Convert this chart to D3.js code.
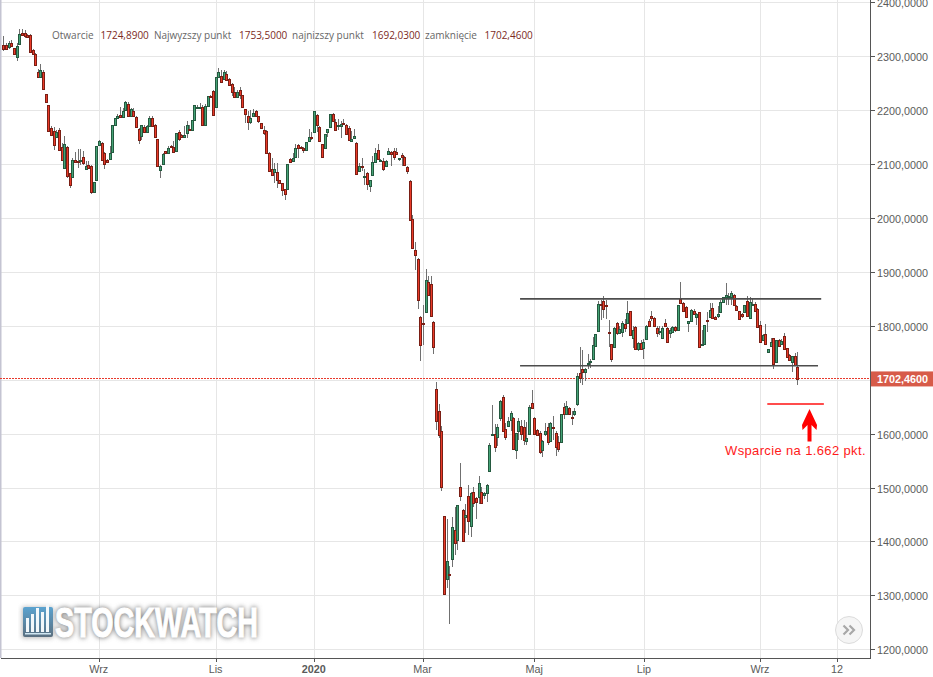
<!DOCTYPE html>
<html><head><meta charset="utf-8">
<script src="https://d3js.org/d3.v7.min.js"></script>
<style>html,body{margin:0;padding:0;background:#fff;overflow:hidden}svg{display:block}</style>
</head><body><svg id="c" width="933" height="677"></svg>
<script>
// open, high, low, close
const ohlcA=[[2323,2339,2311,2316],[2322,2327,2313,2316],[2320,2330,2316,2326],[2327,2333,2320,2321],[2318,2318,2305,2307],[2301,2327,2293,2321],[2325,2352,2325,2344],[2346,2352,2339,2342],[2346,2350,2336,2339],[2342,2343,2336,2338],[2342,2343,2310,2310],[2313,2316,2305,2307],[2307,2308,2285,2286],[2273,2278,2262,2264],[2264,2287,2264,2276],[2273,2276,2241,2242],[2232,2232,2217,2217],[2212,2212,2164,2164],[2169,2173,2156,2156],[2163,2171,2128,2137],[2152,2166,2150,2161],[2165,2168,2127,2128],[2134,2141,2107,2110],[2094,2154,2092,2139],[2134,2135,2076,2079],[2085,2086,2057,2063],[2078,2113,2076,2109],[2109,2125,2104,2105],[2108,2129,2095,2106],[2107,2129,2100,2109],[2115,2126,2100,2104],[2093,2107,2091,2099],[2100,2107,2094,2095],[2098,2100,2046,2051],[2050,2069,2050,2069],[2072,2136,2072,2136],[2137,2147,2135,2144],[2141,2143,2108,2109],[2123,2124,2092,2103],[2110,2112,2104,2105],[2112,2135,2110,2123],[2124,2175,2124,2174],[2174,2188,2174,2187],[2187,2194,2186,2191],[2193,2208,2189,2190],[2190,2206,2188,2201],[2203,2219,2202,2217],[2214,2217,2191,2192],[2192,2206,2190,2204],[2201,2206,2190,2191],[2189,2191,2171,2171],[2167,2168,2140,2147],[2154,2175,2147,2175],[2171,2175,2160,2161],[2162,2174,2161,2172],[2173,2192,2173,2188],[2188,2191,2173,2173],[2175,2176,2152,2152],[2149,2149,2098,2098],[2091,2100,2077,2098],[2102,2123,2102,2121],[2126,2127,2122,2123],[2122,2135,2122,2132],[2136,2137,2131,2133],[2134,2144,2123,2124],[2126,2160,2125,2160],[2162,2166,2144,2149],[2155,2157,2150,2152],[2152,2172,2151,2156],[2160,2181,2150,2175],[2167,2175,2165,2165],[2166,2184,2166,2184],[2183,2211,2183,2211],[2206,2212,2205,2208],[2206,2215,2205,2208],[2208,2212,2175,2175],[2175,2213,2175,2210],[2210,2228,2210,2228],[2229,2231,2226,2227],[2237,2240,2192,2193],[2208,2264,2208,2264],[2264,2281,2262,2273],[2266,2277,2255,2255],[2260,2276,2259,2273],[2269,2274,2257,2258],[2260,2262,2248,2248]];
const ohlcB=[[2251,2252,2229,2235],[2236,2245,2225,2226],[2226,2240,2225,2235],[2240,2245,2222,2230],[2230,2231,2207,2207],[2204,2205,2178,2195],[2192,2200,2165,2180],[2180,2203,2177,2188],[2191,2204,2190,2197],[2201,2203,2190,2191],[2191,2192,2178,2181],[2178,2179,2168,2168],[2165,2172,2155,2160],[2163,2165,2122,2123],[2123,2124,2089,2089],[2092,2113,2079,2081],[2087,2104,2067,2093],[2088,2104,2058,2072],[2072,2073,2066,2066],[2066,2067,2042,2053],[2055,2056,2035,2046],[2056,2102,2056,2102],[2111,2113,2104,2106],[2108,2123,2107,2114],[2115,2140,2114,2132],[2137,2140,2113,2132],[2134,2136,2130,2132],[2132,2134,2123,2128],[2128,2143,2126,2143],[2144,2167,2143,2152],[2152,2161,2147,2150],[2161,2201,2161,2201],[2193,2194,2161,2175],[2171,2173,2144,2145],[2139,2140,2115,2115],[2132,2158,2132,2158],[2161,2167,2152,2167],[2170,2195,2170,2195],[2195,2197,2181,2182],[2180,2185,2164,2165],[2172,2185,2165,2174],[2173,2181,2150,2176],[2179,2185,2175,2178],[2175,2176,2157,2157],[2169,2172,2147,2147],[2144,2163,2142,2149],[2150,2167,2148,2154],[2141,2142,2083,2083],[2090,2104,2088,2098],[2099,2113,2090,2098],[2078,2093,2064,2080],[2085,2087,2054,2065],[2061,2073,2051,2072],[2081,2116,2080,2106],[2105,2132,2104,2123],[2128,2139,2110,2111],[2108,2112,2107,2110],[2108,2113,2089,2092],[2098,2110,2096,2108],[2121,2132,2118,2126],[2124,2127,2098,2121],[2126,2132,2110,2115],[2124,2132,2118,2121],[2111,2114,2108,2114],[2118,2123,2098,2115],[2115,2116,2099,2100],[2097,2098,2084,2089],[2071,2072,1999,1999],[2000,2008,1946,1946],[1942,1957,1906,1933],[1926,1928,1834,1849],[1818,1820,1736,1767],[1807,1841,1767,1806],[1827,1908,1825,1887],[1883,1895,1858,1859],[1879,1895,1821,1821],[1809,1810,1750,1763]];
const ohlcC=[[1684,1698,1609,1625],[1643,1657,1594,1599],[1606,1616,1495,1503],[1450,1450,1305,1305],[1332,1443,1316,1365],[1342,1356,1249,1340],[1370,1447,1355,1428],[1424,1465,1376,1399],[1404,1469,1386,1469],[1502,1547,1477,1487],[1461,1462,1402,1403],[1448,1472,1417,1451],[1487,1506,1414,1440],[1431,1493,1410,1491],[1493,1502,1466,1474],[1482,1484,1443,1475],[1485,1523,1472,1511],[1494,1502,1472,1474],[1488,1494,1480,1491],[1491,1508,1475,1506],[1533,1585,1533,1580],[1601,1655,1598,1602],[1602,1620,1568,1578],[1596,1620,1579,1615],[1630,1664,1626,1662],[1669,1674,1605,1606],[1610,1621,1590,1596],[1617,1633,1615,1625],[1628,1644,1606,1640],[1630,1632,1572,1573],[1572,1604,1555,1604],[1607,1630,1590,1625],[1617,1627,1590,1601],[1614,1628,1581,1591],[1589,1624,1581,1593],[1601,1655,1600,1651],[1659,1683,1648,1649],[1630,1632,1600,1601],[1608,1610,1597,1599],[1604,1606,1565,1567],[1571,1590,1559,1588],[1601,1621,1598,1607],[1614,1621,1581,1586],[1589,1624,1587,1621],[1615,1635,1590,1614],[1604,1606,1561,1578],[1586,1597,1568,1573],[1586,1638,1585,1638],[1651,1658,1629,1639],[1638,1663,1636,1653],[1650,1652,1636,1638],[1632,1643,1618,1630],[1638,1649,1635,1643]];
const ohlcD=[[1656,1714,1654,1709],[1715,1762,1695,1705],[1722,1757,1692,1717],[1717,1723,1700,1721],[1732,1750,1721,1733],[1736,1740,1723,1737],[1741,1782,1740,1766],[1765,1787,1764,1786],[1793,1848,1793,1842],[1842,1849,1813,1840],[1848,1858,1816,1834],[1841,1849,1814,1840],[1791,1813,1762,1788],[1768,1769,1735,1741],[1763,1800,1760,1798],[1807,1809,1785,1788],[1788,1802,1786,1796],[1791,1810,1782,1807],[1805,1815,1791,1797],[1807,1848,1805,1825],[1829,1830,1784,1785],[1780,1801,1760,1794],[1799,1801,1758,1759],[1759,1772,1755,1770],[1770,1776,1758,1759],[1760,1778,1741,1772],[1777,1804,1776,1802],[1811,1815,1799,1801],[1820,1830,1810,1817],[1816,1818,1800,1801],[1798,1802,1782,1788],[1790,1802,1785,1793],[1780,1802,1777,1798],[1807,1815,1800,1801],[1798,1800,1771,1771],[1788,1798,1780,1794],[1790,1802,1788,1799],[1799,1802,1790,1795],[1794,1841,1793,1840],[1851,1884,1843,1845],[1844,1846,1829,1830],[1837,1838,1818,1819],[1808,1811,1791,1811],[1811,1833,1809,1831],[1830,1834,1822,1823]];
const ohlcE=[[1819,1825,1804,1823],[1827,1828,1761,1762],[1766,1794,1765,1768],[1769,1803,1768,1803],[1812,1828,1791,1810],[1819,1844,1817,1832],[1835,1844,1816,1817],[1818,1820,1814,1815],[1821,1838,1816,1823],[1828,1850,1825,1847],[1847,1856,1846,1856],[1856,1881,1841,1859],[1857,1862,1840,1858],[1856,1867,1841,1863],[1859,1861,1838,1840],[1838,1840,1830,1832],[1829,1830,1813,1814],[1823,1825,1817,1820],[1828,1840,1826,1840],[1848,1858,1820,1821],[1817,1855,1815,1847],[1840,1853,1838,1843],[1842,1846,1828,1829],[1833,1835,1799,1799],[1803,1810,1770,1771],[1776,1786,1774,1784],[1786,1805,1768,1769],[1754,1758,1752,1758],[1764,1779,1762,1771],[1779,1780,1721,1732],[1734,1775,1733,1775],[1775,1777,1763,1764],[1768,1778,1766,1774],[1783,1788,1758,1759],[1760,1761,1743,1744],[1747,1750,1737,1738],[1734,1745,1716,1745],[1746,1751,1729,1729],[1724.89,1753.5,1692.03,1702.46]];

const priceTicks=[1200,1300,1400,1500,1600,1700,1800,1900,2000,2100,2200,2300,2400];
const monthLabels=["Wrz","Lis","2020","Mar","Maj","Lip","Wrz","12"];
const monthIndex=[36,80,117,158,200,241.3,285,314];
const lastClose=1702.46;
const channelTop=1850, channelBottom=1726, supportLevel=1655;
const channelStart=194.6, channelEndTop=308, channelEndLow=306.8;
const supportStart=287.7, supportEnd=309;
const headerLabels=["Otwarcie","Najwyzszy punkt","najnizszy punkt","zamknięcie"];
const headerValues=["1724,8900","1753,5000","1692,0300","1702,4600"];

const candles=[...ohlcA,...ohlcB,...ohlcC,...ohlcD,...ohlcE];
const svg=d3.select("#c");
const W=933,H=677,axisX=870,axisY=658;
const FONT="'Liberation Sans',Arial,sans-serif";
const y=d3.scaleLinear().domain([2400,1200]).range([2.4,649.3]);
const x=d3.scaleLinear().domain([0,299]).range([3.3,797.3]);

const defs=svg.append("defs");
defs.append("filter").attr("id","blur").attr("x","-10%").attr("y","-30%").attr("width","120%").attr("height","160%")
  .append("feGaussianBlur").attr("stdDeviation",2.4);
const lg=defs.append("linearGradient").attr("id","logoG").attr("x1",0).attr("y1",0).attr("x2",0).attr("y2",1);
lg.append("stop").attr("offset","0").attr("stop-color","#5ba3d0");
lg.append("stop").attr("offset","1").attr("stop-color","#5a6f80");

// grid
const grid=svg.append("g").attr("shape-rendering","crispEdges");
grid.selectAll(".h").data(priceTicks).join("line").attr("x1",0).attr("x2",axisX)
  .attr("y1",d=>Math.round(y(d))+.5).attr("y2",d=>Math.round(y(d))+.5).attr("stroke","#e6e6e6");
grid.selectAll(".v").data(monthIndex).join("line").attr("y1",0).attr("y2",axisY)
  .attr("x1",d=>Math.round(x(d))+.5).attr("x2",d=>Math.round(x(d))+.5).attr("stroke","#e6e6e6");
svg.append("line").attr("x1",.75).attr("x2",.75).attr("y1",0).attr("y2",axisY).attr("stroke","#c4c4d2").attr("stroke-width",1.5);

// logo
const logo=svg.append("g");
const lx=22,ly=606;
logo.append("rect").attr("x",lx).attr("y",ly+1).attr("width",31).attr("height",31).attr("fill","#888").attr("filter","url(#blur)").attr("opacity",.6);
logo.append("rect").attr("x",lx+1).attr("y",ly+1).attr("width",30).attr("height",30).attr("rx",2).attr("fill","url(#logoG)");
[[4,14],[9,18],[14,24],[19,20],[24,28]].forEach(([dx,h])=>logo.append("rect").attr("x",lx+dx).attr("y",ly+26-h).attr("width",3).attr("height",h).attr("fill","#f3f8fb"));
logo.append("rect").attr("x",lx+3).attr("y",ly+27).attr("width",26).attr("height",1.5).attr("fill","#cfe6f2");
const logoAttrs=s=>s.attr("x",55).attr("y",637).attr("font-family","'Liberation Sans Narrow','Liberation Sans',sans-serif").attr("font-weight","bold").attr("font-size",43).attr("textLength",203).attr("lengthAdjust","spacingAndGlyphs");
logoAttrs(logo.append("text").text("STOCKWATCH")).attr("fill","#808080").attr("stroke","#808080").attr("stroke-width",2.2).attr("filter","url(#blur)");
logoAttrs(logo.append("text").text("STOCKWATCH")).attr("fill","#fff").attr("stroke","#fff").attr("stroke-width",1);

// last price line
svg.append("line").attr("x1",0).attr("x2",axisX).attr("y1",Math.floor(y(lastClose))+.5).attr("y2",Math.floor(y(lastClose))+.5)
  .attr("stroke","#e8392c").attr("stroke-dasharray","2,1").attr("shape-rendering","crispEdges");

// candles
const cg=svg.append("g").attr("shape-rendering","crispEdges");
const cx=i=>Math.round(x(i));
const snap=v=>Math.round(y(v)+1);
cg.selectAll("line").data(candles).join("line")
  .attr("x1",(d,i)=>cx(i)+.5).attr("x2",(d,i)=>cx(i)+.5)
  .attr("y1",d=>snap(d[1])).attr("y2",d=>snap(d[2]))
  .attr("stroke","#707070");
cg.selectAll("rect").data(candles).join("rect")
  .attr("x",(d,i)=>cx(i)-.5).attr("width",2)
  .attr("y",d=>snap(Math.max(d[0],d[3]))+.5)
  .attr("height",d=>Math.max(1,snap(Math.min(d[0],d[3]))-snap(Math.max(d[0],d[3]))))
  .attr("fill",d=>d[3]>=d[0]?"#45a376":"#ea3a28")
  .attr("stroke",d=>d[3]>=d[0]?"#24593f":"#7a1e14");

// channel
[[channelTop,channelEndTop],[channelBottom,channelEndLow]].forEach(([p,e])=>{
  svg.append("line").attr("x1",x(channelStart)).attr("x2",x(e)).attr("y1",y(p)).attr("y2",y(p)).attr("stroke","#4d4d4d").attr("stroke-width",1.6);
});

// axes
const fmt=d=>d3.format(".4f")(d).replace(".",",");
const yAxis=d3.axisRight(y).tickValues(priceTicks).tickFormat(fmt).tickSize(4).tickPadding(2.5);
const gy=svg.append("g").attr("transform",`translate(${axisX+.5},0)`).call(yAxis);
gy.select(".domain").remove();
gy.selectAll("line").attr("stroke","#555").attr("shape-rendering","crispEdges");
gy.selectAll("text").attr("font-family",FONT).attr("font-size",10.8).attr("fill","#5a5a5a").attr("transform","translate(0,1)");
// the 1700 label sits under the last-price tag
gy.selectAll(".tick").filter(d=>d===1700).select("text").remove();

const xAxis=d3.axisBottom(x).tickValues(monthIndex).tickFormat((d,i)=>monthLabels[i]).tickSize(3).tickPadding(4);
const gx=svg.append("g").attr("transform",`translate(0,${axisY+.5})`).call(xAxis);
gx.select(".domain").remove();
gx.selectAll("line").attr("stroke","#555").attr("shape-rendering","crispEdges");
gx.selectAll("text").attr("font-family",FONT).attr("font-size",10.8).attr("fill","#5a5a5a").attr("dx",-0.7).attr("font-weight",(d,i)=>monthLabels[i]==="2020"?"bold":"normal");
svg.append("line").attr("x1",1).attr("x2",axisX+1).attr("y1",axisY+.5).attr("y2",axisY+.5).attr("stroke","#555").attr("shape-rendering","crispEdges");
svg.append("line").attr("x1",axisX+.5).attr("x2",axisX+.5).attr("y1",0).attr("y2",axisY+1).attr("stroke","#555").attr("shape-rendering","crispEdges");

// last price label
const ly2=y(lastClose);
svg.append("rect").attr("x",axisX+1).attr("y",ly2-7).attr("width",W-axisX-1).attr("height",15).attr("fill","#d75b49");
svg.append("text").attr("x",877).attr("y",ly2+4.3).text(fmt(lastClose)).attr("fill","#fff").attr("font-family",FONT).attr("font-weight","bold").attr("font-size",10.8);

// header
const hf="'Open Sans','Noto Sans',sans-serif";
const hx=[52,154,292,425], vx=[100.5,239,372,484.5];
headerLabels.forEach((t,i)=>svg.append("text").attr("x",hx[i]).attr("y",38.5).text(t).attr("font-family",hf).attr("font-size",10).attr("fill","#666"));
headerValues.forEach((t,i)=>svg.append("text").attr("x",vx[i]).attr("y",38.5).text(t).attr("font-family",hf).attr("font-size",10).attr("fill","#7c2a24"));

// support annotation
svg.append("line").attr("x1",x(supportStart)).attr("x2",x(supportEnd)).attr("y1",y(supportLevel)).attr("y2",y(supportLevel)).attr("stroke","#ff1010").attr("stroke-width",1.3);
const ax=x(303.6),ay=y(supportLevel);
svg.append("path").attr("d",`M${ax},${ay+5} L${ax+7.5},${ay+21} L${ax+7},${ay+26} L${ax+2},${ay+21} L${ax+2},${ay+37.5} L${ax-2},${ay+37.5} L${ax-2},${ay+21} L${ax-7},${ay+26} L${ax-7.5},${ay+21} Z`).attr("fill","#ff0000");
svg.append("text").attr("x",725).attr("y",455).text("Wsparcie na 1.662 pkt.").attr("fill","#ff1a1a").attr("font-family",FONT).attr("font-size",13).attr("letter-spacing",.36);

// scroll button
svg.append("circle").attr("cx",849).attr("cy",630).attr("r",13.5).attr("fill","#f5f5f5").attr("stroke","#dcdcdc");
[0,6].forEach(dx=>svg.append("path").attr("d",`M${843.5+dx},625.5 L${848+dx},630 L${843.5+dx},634.5`).attr("fill","none").attr("stroke","#a8a8a8").attr("stroke-width",2.2));
</script></body></html>
